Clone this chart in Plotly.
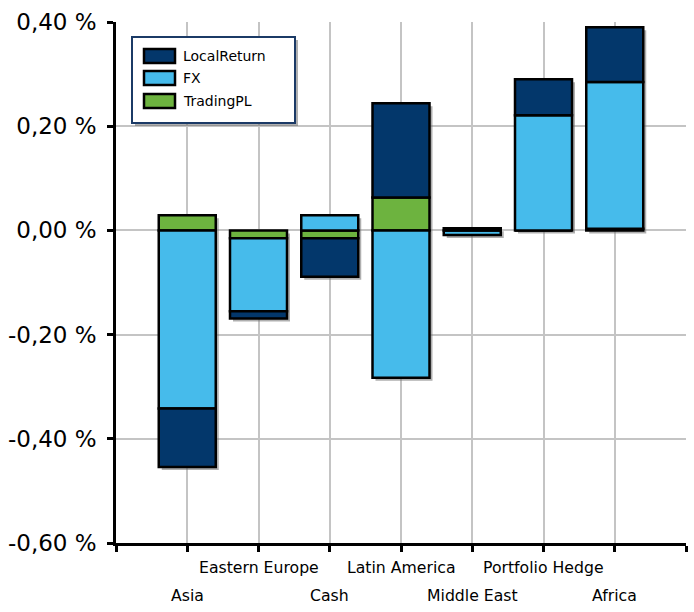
import plotly.graph_objects as go

# Attribution by region (values in percent)
regions = ["Asia", "Eastern Europe", "Cash", "Latin America",
           "Middle East", "Portfolio Hedge", "Africa"]
local_return = [-0.112, -0.014, -0.074, 0.181, 0.004, 0.069, 0.105]
fx = [-0.342, -0.140, 0.029, -0.283, -0.009, 0.221, 0.282]
trading_pl = [0.029, -0.015, -0.015, 0.063, 0.0, 0.0, 0.003]

y_ticks = [-0.6, -0.4, -0.2, 0.0, 0.2, 0.4]
y_tick_text = [f"{v:.2f}".replace(".", ",") + " %" for v in y_ticks]

C_LOCAL = "#03376b"
C_FX = "#46bbeb"
C_TRADING = "#6db33f"

# stacking order: first trace sits next to zero
series = [("TradingPL", trading_pl, C_TRADING),
          ("FX", fx, C_FX),
          ("LocalReturn", local_return, C_LOCAL)]

positions = list(range(1, len(regions) + 1))

# extents of each stacked column, used for the drop shadow
pos_sum = [sum(v for v in col if v > 0) for col in zip(*[s[1] for s in series])]
neg_sum = [sum(v for v in col if v < 0) for col in zip(*[s[1] for s in series])]

W, H = 694, 612
M_L, M_R, M_T, M_B = 116, 8, 22, 69
plot_w = W - M_L - M_R
plot_h = H - M_T - M_B
x_range = [0, len(regions) + 1]
y_range = [-0.6, 0.4]
dx = 3 * (x_range[1] - x_range[0]) / plot_w
dy = 3 * (y_range[1] - y_range[0]) / plot_h


def px_x(px):
    """Pixel column -> paper x."""
    return (px - M_L) / plot_w


def px_y(py):
    """Pixel row -> paper y."""
    return (M_T + plot_h - py) / plot_h


fig = go.Figure()

# soft shadow under each column
fig.add_trace(go.Bar(
    x=[p + dx for p in positions],
    y=[p - n for p, n in zip(pos_sum, neg_sum)],
    base=[n - dy for n in neg_sum],
    width=0.8,
    marker=dict(color="rgba(110,110,110,0.55)", line=dict(width=0)),
    showlegend=False, hoverinfo="skip",
    xaxis="x", yaxis="y",
))

bar_line = dict(color="#000000", width=2.5)
for name, vals, col in series:
    fig.add_trace(go.Bar(
        name=name, x=positions, y=vals, width=0.8,
        marker=dict(color=col, line=bar_line),
        showlegend=False,
        xaxis="x2", yaxis="y2",
    ))

fig.update_layout(
    width=W, height=H,
    margin=dict(l=M_L, r=M_R, t=M_T, b=M_B),
    paper_bgcolor="#ffffff", plot_bgcolor="#ffffff",
    barmode="relative",
    showlegend=False,
    xaxis=dict(
        range=x_range, tickvals=list(range(0, len(regions) + 2)),
        showticklabels=False, showgrid=True, gridcolor="#c4c4c4", gridwidth=2,
        zeroline=False, showline=True, linecolor="#000000", linewidth=2.5,
        ticks="outside", ticklen=6, tickwidth=2.5, tickcolor="#000000",
    ),
    yaxis=dict(
        range=y_range, tickvals=y_ticks, ticktext=y_tick_text,
        showgrid=True, gridcolor="#c4c4c4", gridwidth=2,
        zeroline=False, showline=True, linecolor="#000000", linewidth=2.5,
        ticks="outside", ticklen=6, tickwidth=2.5, tickcolor="#000000",
        ticklabelstandoff=6,
        tickfont=dict(family="DejaVu Sans", size=23, color="#000000"),
    ),
    xaxis2=dict(range=x_range, overlaying="x", visible=False),
    yaxis2=dict(range=y_range, overlaying="y", visible=False),
)

# staggered category labels beneath the axis
for i, (p, name) in enumerate(zip(positions, regions)):
    lower = i % 2 == 0
    fig.add_annotation(
        x=p, y=0, xref="x", yref="paper",
        text=name, showarrow=False,
        xanchor="center", yanchor="top",
        yshift=-(41 if lower else 13),
        font=dict(family="DejaVu Sans", size=15.7, color="#000000"),
    )

# legend box with shadow
box = (132, 37, 295, 123)
fig.add_shape(type="rect", xref="paper", yref="paper",
              x0=px_x(box[0] + 3), x1=px_x(box[2] + 3),
              y0=px_y(box[3] + 3), y1=px_y(box[1] + 3),
              fillcolor="rgba(110,110,110,0.55)", line=dict(width=0))
fig.add_shape(type="rect", xref="paper", yref="paper",
              x0=px_x(box[0]), x1=px_x(box[2]),
              y0=px_y(box[3]), y1=px_y(box[1]),
              fillcolor="#ffffff", line=dict(color="#1b3a66", width=2))

row_top = [49, 71, 94]
for top, (name, _, col) in zip(row_top, reversed(series)):
    fig.add_shape(type="rect", xref="paper", yref="paper",
                  x0=px_x(144), x1=px_x(175),
                  y0=px_y(top + 14), y1=px_y(top),
                  fillcolor=col, line=dict(color="#000000", width=2.5))
    fig.add_annotation(x=px_x(181), y=px_y(top + 7), xref="paper", yref="paper",
                       text=name, showarrow=False,
                       xanchor="left", yanchor="middle",
                       font=dict(family="DejaVu Sans", size=14, color="#000000"))

fig.write_html("out.html")
